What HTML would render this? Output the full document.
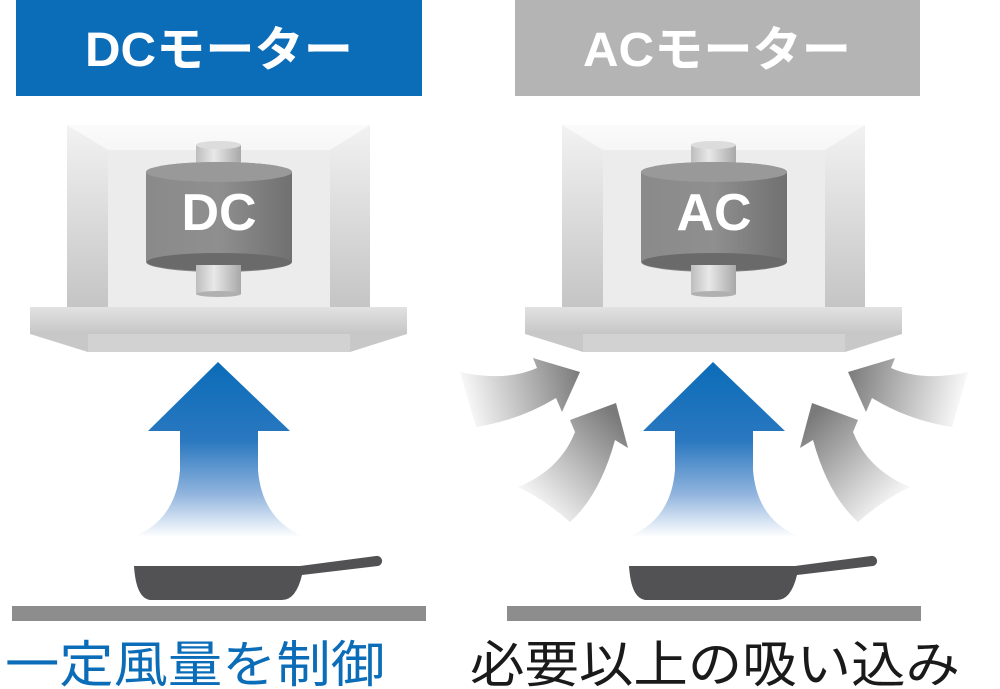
<!DOCTYPE html>
<html><head><meta charset="utf-8"><style>html,body{margin:0;padding:0;background:#fff}svg{display:block}</style></head>
<body>
<svg width="1000" height="689" viewBox="0 0 1000 689" xmlns="http://www.w3.org/2000/svg">
<defs>
<linearGradient id="body" x1="0" y1="0" x2="0" y2="1"><stop offset="0" stop-color="#fbfbfb"/><stop offset="1" stop-color="#d8d8d8"/></linearGradient>
<linearGradient id="side" x1="0" y1="0" x2="0" y2="1"><stop offset="0" stop-color="#f2f2f2"/><stop offset="1" stop-color="#c4c4c4"/></linearGradient>
<linearGradient id="bar" x1="0" y1="0" x2="0" y2="1"><stop offset="0" stop-color="#e2e2e2"/><stop offset="1" stop-color="#c6c6c6"/></linearGradient>
<linearGradient id="cyl" x1="0" y1="0" x2="1" y2="0"><stop offset="0" stop-color="#8a8a8a"/><stop offset="0.5" stop-color="#8f8f8f"/><stop offset="1" stop-color="#707070"/></linearGradient>
<linearGradient id="shaft" x1="0" y1="0" x2="1" y2="0"><stop offset="0" stop-color="#bdbdbd"/><stop offset="0.4" stop-color="#e8e8e8"/><stop offset="1" stop-color="#a8a8a8"/></linearGradient>
<linearGradient id="blue" x1="0" y1="0" x2="0" y2="1"><stop offset="0" stop-color="#0b6cb8"/><stop offset="0.45" stop-color="#2a78c0"/><stop offset="0.75" stop-color="#8fb3dd"/><stop offset="1" stop-color="#ffffff"/></linearGradient>
<linearGradient id="gl1" gradientUnits="userSpaceOnUse" x1="460" y1="400" x2="580" y2="370"><stop offset="0" stop-color="#fff"/><stop offset="1" stop-color="#7a7a7a"/></linearGradient>
<linearGradient id="gl2" gradientUnits="userSpaceOnUse" x1="530" y1="510" x2="620" y2="420"><stop offset="0" stop-color="#fff"/><stop offset="1" stop-color="#7a7a7a"/></linearGradient>
<g id="hood">
<rect x="67" y="125" width="303" height="185" fill="url(#body)"/>
<rect x="108" y="150" width="222" height="160" fill="#ececec"/>
<polygon points="67,125 108,150 108,310 67,310" fill="url(#side)"/>
<polygon points="370,125 330,150 330,310 370,310" fill="url(#side)"/>
<rect x="30" y="307" width="377" height="27" fill="url(#bar)"/>
<polygon points="30,334 407,334 350,352 88,352" fill="#c8c8c8"/>
<rect x="88" y="334" width="262" height="18" fill="#d2d2d2"/>
<rect x="196" y="145" width="45" height="25" fill="url(#shaft)"/>
<ellipse cx="218.5" cy="145" rx="22.5" ry="4" fill="#dcdcdc"/>
<path d="M146,172 L146,262 A73,10 0 0 0 292,262 L292,172 A73,10 0 0 0 146,172 Z" fill="url(#cyl)"/>
<ellipse cx="219" cy="172" rx="73" ry="10" fill="#999"/>
<ellipse cx="219" cy="262" rx="72" ry="9" fill="#6a6a6a"/>
<rect x="196" y="265" width="45" height="29" fill="url(#shaft)"/>
<ellipse cx="218.5" cy="294" rx="22.5" ry="3" fill="#b0b0b0"/>
<rect x="12" y="606" width="414" height="15" fill="#8d8d8d"/>
<path d="M134,566 L300,566 L376,556 A5,5 0 0 1 378,566 L302,575 Q296,600 282,600 L150,600 Q136,598 134,566 Z" fill="#525255"/>
<path d="M218,362 L290,431 L258,431 L258,470 Q262,520 305,537 L133,537 Q176,520 180,470 L180,431 L148,431 Z" fill="url(#blue)"/>
</g>
</defs>
<rect x="16" y="0" width="406" height="96" fill="#0b6cb8"/>
<text x="219" y="66" fill="#fff" font-family="Liberation Sans, Noto Sans CJK JP, sans-serif" font-weight="bold" font-size="48" text-anchor="middle" textLength="268" lengthAdjust="spacingAndGlyphs">DCモーター</text>
<rect x="515" y="0" width="405" height="96" fill="#b4b4b4"/>
<text x="717" y="66" fill="#fff" font-family="Liberation Sans, Noto Sans CJK JP, sans-serif" font-weight="bold" font-size="48" text-anchor="middle" textLength="268" lengthAdjust="spacingAndGlyphs">ACモーター</text>
<use href="#hood"/>
<use href="#hood" x="495"/>
<text x="219" y="230" fill="#fff" font-family="Liberation Sans, sans-serif" font-weight="bold" font-size="52" text-anchor="middle">DC</text>
<text x="714" y="230" fill="#fff" font-family="Liberation Sans, sans-serif" font-weight="bold" font-size="52" text-anchor="middle">AC</text>
<g id="garr">
<path d="M460,372 Q505,382 537,368 L533,358 L580,372 L562,412 L556,398 Q520,420 476,427 Q468,400 460,372 Z" fill="url(#gl1)"/>
<path d="M518,487 Q560,470 575,432 L570,420 L616,403 L628,448 L615,440 Q600,495 570,522 Q545,500 518,487 Z" fill="url(#gl2)"/>
</g>
<use href="#garr" transform="translate(1428,0) scale(-1,1)"/>
<text x="5" y="682" fill="#0b6cb8" font-family="Liberation Sans, Noto Sans CJK JP, sans-serif" font-size="50" textLength="380" lengthAdjust="spacingAndGlyphs">一定風量を制御</text>
<text x="470" y="682" fill="#1a1a1a" font-family="Liberation Sans, Noto Sans CJK JP, sans-serif" font-size="50" textLength="490" lengthAdjust="spacingAndGlyphs">必要以上の吸い込み</text>
</svg>
</body></html>
